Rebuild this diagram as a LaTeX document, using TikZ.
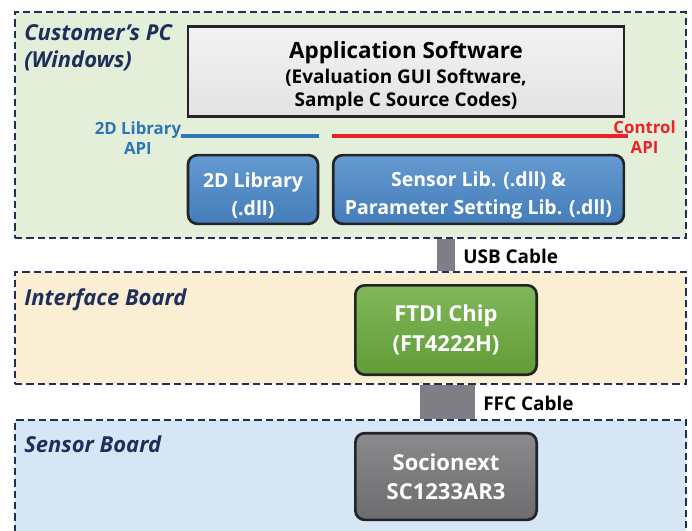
\documentclass[tikz,border=0pt]{standalone}
\usepackage{fontspec}
\setmainfont{Open Sans}
\usepackage{tikz}
\usetikzlibrary{fit,positioning}

\definecolor{framenavy}{HTML}{1F2F5C}
\definecolor{pcgreen}{HTML}{E4EFDA}
\definecolor{ifyellow}{HTML}{FAEFD2}
\definecolor{sbblue}{HTML}{D6E6F5}
\definecolor{edgedark}{HTML}{222428}
\definecolor{libblue}{HTML}{4A88C9}
\definecolor{chipgreen}{HTML}{6AAA3C}
\definecolor{chipgray}{HTML}{767679}
\definecolor{cablegray}{HTML}{7E7E84}
\definecolor{apiblue}{HTML}{2E75B6}
\definecolor{apired}{HTML}{EC2227}

\begin{document}
\begin{tikzpicture}[x=0.75pt, y=-0.75pt,
        frame/.style = {draw=framenavy,
            line width=1.6pt,
            dash pattern=on 5.5pt off 3pt,
            inner sep=0pt},
        boardlabel/.style = {anchor=north west,
            align=left,
            inner sep=0pt,
            text=framenavy,
            font=\bfseries\itshape\fontsize{16.5}{20.5}\selectfont},
        block/.style = {draw=edgedark,
            line width=2pt,
            rounded corners=7pt,
            align=center,
            text=white,
            font=\bfseries\fontsize{14.6}{21}\selectfont},
        api/.style = {line width=3pt},
        apilabel/.style = {align=center,
            inner sep=0pt,
            font=\bfseries\fontsize{12.6}{15}\selectfont},
        cable/.style = {draw=cablegray},
        cablelabel/.style = {anchor=west,
            inner sep=0pt,
            font=\bfseries\fontsize{14.2}{15}\selectfont}]

    \clip (0,0) rectangle (692,531);

    % Board frames
    \node[frame, fill=pcgreen, fit={(15,12) (686,238)}] (pc) {};
    \node[frame, fill=ifyellow, fit={(15,272) (686,384)}] (ifb) {};
    \node[frame, fill=sbblue, fit={(15,420) (686,560)}] (sb) {};

    \node[boardlabel] (pclabel) at (24,24) {Customer’s PC\\(Windows)};
    \node[boardlabel] (iflabel) at (24,288) {Interface Board};
    \node[boardlabel] (sblabel) at (24,436) {Sensor Board};

    % Application software
    \node[draw=edgedark,
        line width=2.2pt,
        top color=white!60!gray!25,
        bottom color=gray!22,
        minimum width=327pt,
        minimum height=68pt,
        align=center,
        font=\bfseries\fontsize{14.2}{17.5}\selectfont] (app) at (406,71.5)
        {{\fontsize{16.8}{20}\selectfont\rule{0pt}{20pt}Application Software}\\[1pt]
         (Evaluation GUI Software,\\Sample C Source Codes)};

    % Libraries
    \node[block,
        top color=libblue!85!white,
        bottom color=libblue!92!black,
        minimum width=97.5pt,
        minimum height=51.5pt] (lib2d) at (253,189.5)
        {\rule{0pt}{20pt}2D Library\\(.dll)};
    \node[block,
        top color=libblue!85!white,
        bottom color=libblue!92!black,
        minimum width=218pt,
        minimum height=51.5pt] (senslib) at (478.5,189.5)
        {\rule{0pt}{20pt}Sensor Lib. (.dll) \&\\Parameter Setting Lib. (.dll)};

    % API lines
    \draw[api, apiblue] ([xshift=-4pt, yshift=13.5pt]lib2d.north west)
        coordinate (api2d) -- ([yshift=13.5pt]lib2d.north east);
    \draw[api, apired] ([yshift=13.5pt]senslib.north west)
        -- ([xshift=2pt, yshift=13.5pt]senslib.north east) coordinate (apictl);

    \node[apilabel, text=apiblue, anchor=east] (api2dlabel)
        at ([yshift=-2pt]api2d) {2D Library\\API};
    \node[apilabel, text=apired, anchor=west] (apictllabel)
        at ([xshift=-11pt, yshift=-1pt]apictl) {Control\\API};

    % Chips
    \node[block,
        top color=chipgreen!85!white,
        bottom color=chipgreen!92!black,
        minimum width=136pt,
        minimum height=67pt,
        font=\bfseries\fontsize{16.5}{22}\selectfont] (ftdi) at (446,330)
        {FTDI Chip\\(FT4222H)};
    \node[block,
        top color=chipgray!85!white,
        bottom color=chipgray!92!black,
        minimum width=136pt,
        minimum height=65pt,
        font=\bfseries\fontsize{16.5}{22}\selectfont] (sensor) at (446,476.5)
        {Socionext\\SC1233AR3};

    % Cables
    \coordinate (usbx) at (446,0);
    \coordinate (ffcx) at (447.5,0);
    \draw[cable, line width=13.5pt] (pc.south -| usbx) -- (ifb.north -| usbx);
    \draw[cable, line width=41pt] (ifb.south -| ffcx) -- (sb.north -| ffcx);

    \node[cablelabel] (usblabel) at (463,256) {USB Cable};
    \node[cablelabel] (ffclabel) at (483,403) {FFC Cable};

\end{tikzpicture}
\end{document}
